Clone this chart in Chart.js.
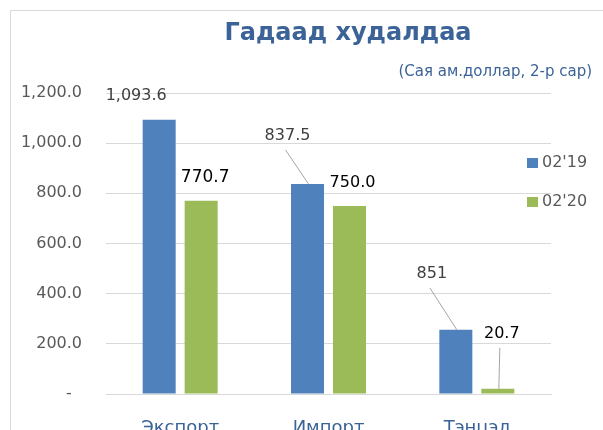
<!DOCTYPE html>
<html>
<head>
<meta charset="utf-8">
<script src="https://cdn.jsdelivr.net/npm/chart.js@4.4.1/dist/chart.umd.min.js"></script>
<style>
  html, body { margin: 0; padding: 0; background: #fff; }
  #wrap { width: 603px; height: 430px; position: relative; }
</style>
</head>
<body>
<div id="wrap"><canvas id="tradeChart" width="603" height="430"></canvas></div>
<script>
const categories = ["Экспорт", "Импорт", "Тэнцэл"];
const seriesNames = ["02'19", "02'20"];
const values2019 = [1093.6, 837.5, 255.7];
const values2020 = [770.7, 750.0, 20.7];
// label texts as printed on the picture
const labels2019 = ["1,093.6", "837.5", "851"];
const labels2020 = ["770.7", "750.0", "20.7"];
const yTicks = [0, 200, 400, 600, 800, 1000, 1200];

const blue = "#4f81bd";
const green = "#9bbb59";
const gridColor = "#d9d9d9";
const titleColor = "#3b6397";

// label offsets from bar top, and whether a leader line is drawn
const labelStyle = [
  [
    { dx: -23, dy: -24, color: "#404040", size: 16, leader: false },
    { dx: -20, dy: -48, color: "#404040", size: 16, leader: true },
    { dx: -24, dy: -56, color: "#404040", size: 16, leader: true },
  ],
  [
    { dx: 4, dy: -23, color: "#000000", size: 17, leader: false },
    { dx: 3, dy: -23, color: "#000000", size: 16, leader: false },
    { dx: 4, dy: -55, color: "#000000", size: 16, leader: true },
  ],
];

const font = "'DejaVu Sans', Verdana, sans-serif";

const framePlugin = {
  id: "frame",
  beforeDraw(chart) {
    const ctx = chart.ctx;
    ctx.save();
    ctx.fillStyle = "#fff";
    ctx.fillRect(0, 0, chart.width, chart.height);
    ctx.strokeStyle = gridColor;
    ctx.lineWidth = 1;
    ctx.beginPath();
    ctx.moveTo(10.5, chart.height);
    ctx.lineTo(10.5, 10.5);
    ctx.lineTo(chart.width, 10.5);
    ctx.stroke();
    ctx.restore();
  },
  afterDraw(chart) {
    const ctx = chart.ctx;
    ctx.save();
    // title
    ctx.fillStyle = titleColor;
    ctx.textAlign = "center";
    ctx.textBaseline = "middle";
    ctx.font = "bold 24px " + font;
    ctx.fillText("Гадаад худалдаа", 348, 34);
    ctx.font = "15px " + font;
    ctx.textAlign = "right";
    ctx.fillText("(Сая ам.доллар, 2-р сар)", 592, 72);

    // legend
    const legendY = [163, 202];
    [blue, green].forEach((c, i) => {
      ctx.fillStyle = c;
      ctx.fillRect(527, legendY[i] - 5, 11, 10);
      ctx.fillStyle = "#595959";
      ctx.textAlign = "left";
      ctx.font = "16px " + font;
      ctx.fillText(seriesNames[i], 542, legendY[i]);
    });

    // data labels
    const texts = [labels2019, labels2020];
    chart.data.datasets.forEach((ds, di) => {
      const meta = chart.getDatasetMeta(di);
      meta.data.forEach((bar, i) => {
        const st = labelStyle[di][i];
        const lx = bar.x + st.dx;
        const ly = bar.y + st.dy;
        if (st.leader) {
          ctx.strokeStyle = "#a6a6a6";
          ctx.lineWidth = 1;
          ctx.beginPath();
          ctx.moveTo(lx - 2, ly + 14);
          ctx.lineTo(bar.x + 1, bar.y);
          ctx.stroke();
        }
        ctx.fillStyle = st.color;
        ctx.font = st.size + "px " + font;
        ctx.textAlign = "center";
        ctx.textBaseline = "middle";
        ctx.fillText(texts[di][i], lx, ly);
      });
    });
    ctx.restore();
  },
};

new Chart(document.getElementById("tradeChart"), {
  type: "bar",
  data: {
    labels: categories,
    datasets: [
      {
        label: seriesNames[0],
        data: values2019,
        backgroundColor: blue,
        barPercentage: 0.786,
        categoryPercentage: 0.566,
      },
      {
        label: seriesNames[1],
        data: values2020,
        backgroundColor: green,
        barPercentage: 0.786,
        categoryPercentage: 0.566,
      },
    ],
  },
  options: {
    responsive: false,
    animation: false,
    layout: {
      padding: { left: 10, right: 52, top: 93, bottom: 0 },
    },
    plugins: {
      legend: { display: false },
      title: { display: false },
      tooltip: { enabled: false },
    },
    scales: {
      x: {
        grid: { display: false },
        border: { display: true, color: gridColor },
        ticks: {
          color: titleColor,
          font: { family: font, size: 18 },
          padding: 16,
        },
        afterFit(scale) {
          scale.height = 36;
        },
      },
      y: {
        min: 0,
        max: 1200,
        afterBuildTicks(scale) {
          scale.ticks = yTicks.map((v) => ({ value: v }));
        },
        grid: { color: gridColor, drawTicks: false },
        border: { display: false },
        ticks: {
          color: "#595959",
          font: { family: font, size: 16 },
          padding: 24,
          callback: (v) =>
            v === 0
              ? "-  "
              : v.toLocaleString("en-US", { minimumFractionDigits: 1, maximumFractionDigits: 1 }),
        },
        afterFit(scale) {
          scale.width = 96;
        },
      },
    },
  },
  plugins: [framePlugin],
});
</script>
</body>
</html>
